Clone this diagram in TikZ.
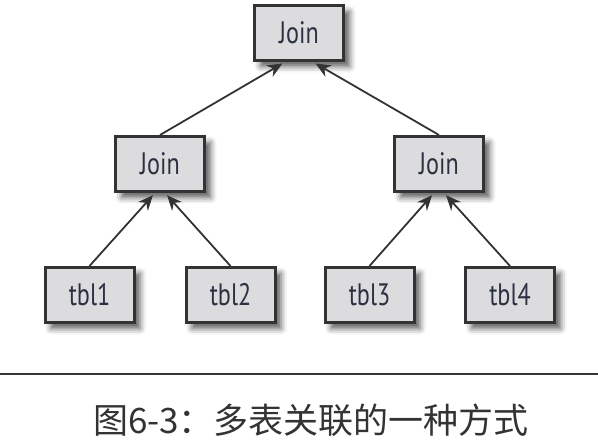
\documentclass[tikz,border=0pt]{standalone}
\usepackage{fontspec}
\usetikzlibrary{arrows.meta,shadows.blur}
\newfontfamily\boxfont[FakeStretch=0.78]{PT Sans}
\newfontfamily\cjk{Noto Sans CJK SC}
\definecolor{boxgray}{HTML}{DCDCDE}
\definecolor{edgegray}{HTML}{333333}
\definecolor{inkblue}{HTML}{2B3142}

\begin{document}
\begin{tikzpicture}[x=1pt,y=-1pt,
  tbl/.style={draw=edgegray,line width=3pt,fill=boxgray,minimum width=89pt,minimum height=55pt,
    inner sep=0pt,text=inkblue,font=\boxfont\fontsize{31}{31}\selectfont,
    blur shadow={shadow xshift=6pt,shadow yshift=-6pt,shadow blur radius=6pt,shadow opacity=65}},
  link/.style={draw=edgegray,line width=1.8pt,-{Stealth[length=15pt,width=13pt]},shorten >=3pt}]
  \useasboundingbox (0,0) rectangle (598,446);
  \node[tbl] (top) at (299,33) {Join};
  \node[tbl] (jl) at (160,164) {Join};
  \node[tbl] (jr) at (439,164) {Join};
  \node[tbl] (t1) at (89.5,295) {tbl1};
  \node[tbl] (t2) at (230.5,295) {tbl2};
  \node[tbl] (t3) at (369.5,295) {tbl3};
  \node[tbl] (t4) at (510,295) {tbl4};
  \draw[link] (jl.north) -- ([xshift=-14pt]top.south);
  \draw[link] (jr.north) -- ([xshift=14pt]top.south);
  \draw[link] (t1.north) -- ([xshift=-5pt]jl.south);
  \draw[link] (t2.north) -- ([xshift=5pt]jl.south);
  \draw[link] (t3.north) -- ([xshift=-5pt]jr.south);
  \draw[link] (t4.north) -- ([xshift=5pt]jr.south);
  \coordinate (rl) at (0,374);
  \coordinate (rr) at (598,374);
  \draw[edgegray,line width=1.2pt] (rl) -- (rr);
  \node[text=edgegray,font=\cjk\fontsize{35}{36}\selectfont] (cap) at (311,420) {图6-3：多表关联的一种方式};
\end{tikzpicture}
\end{document}
